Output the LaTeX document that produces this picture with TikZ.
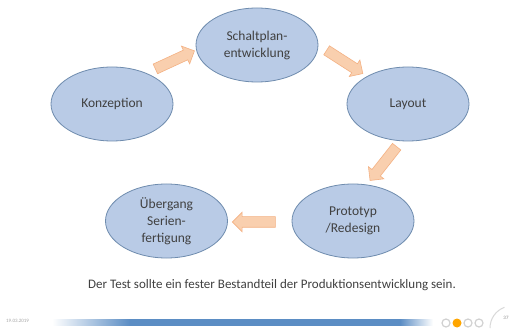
\documentclass[tikz,border=0pt]{standalone}
\usepackage{fontspec}
\setmainfont{Carlito}
\usetikzlibrary{shapes.geometric,shapes.arrows}
\definecolor{ellfill}{HTML}{B9CBE6}
\definecolor{elldraw}{HTML}{6F8CAE}
\definecolor{txt}{HTML}{404040}
\definecolor{arrfill}{HTML}{F9CFAE}
\definecolor{arrdraw}{HTML}{F4B183}
\definecolor{barblue}{HTML}{5B8DC4}
\tikzset{
  stage/.style={ellipse, draw=elldraw, line width=0.8pt, fill=ellfill,
    minimum width=122pt, minimum height=74pt, inner sep=0pt,
    text=txt, font=\fontsize{13.5}{17}\selectfont, align=center},
  blockarrow/.style={single arrow, draw=arrdraw, fill=arrfill, line width=0.6pt,
    minimum height=43pt, minimum width=19pt, inner sep=5pt,
    single arrow head extend=4.5pt, single arrow tip angle=90},
  dot/.style={circle, draw=black!18, line width=1.2pt, minimum size=8pt, inner sep=0pt}
}
\begin{document}
\begin{tikzpicture}[x=1pt,y=-1pt]
\useasboundingbox (0,0) rectangle (514,331);
\fill[white] (0,0) rectangle (514,331);
% stages
\node[stage] (sch) at (257,45) {Schaltplan-\\entwicklung};
\node[stage] (kon) at (112,104) {Konzeption};
\node[stage] (lay) at (408,104) {Layout};
\node[stage] (pro) at (353,221) {Prototyp\\/Redesign};
\node[stage] (ueb) at (166.5,221) {Übergang\\Serien-\\fertigung};
% arrows
\node[blockarrow, rotate=24.8] (a1) at (172.5,61) {};
\node[blockarrow, rotate=-32.7] (a2) at (342.5,60.5) {};
\node[blockarrow, rotate=-128.2] (a3) at (385,161.5) {};
\node[blockarrow, rotate=180] (a4) at (256.5,222) {};
% text
\node[text=txt, font=\fontsize{13}{15}\selectfont] (note) at (272,285)
  {Der Test sollte ein fester Bestandteil der Produktionsentwicklung sein.};
% footer
\node[text=black!35, font=\fontsize{5}{6}\selectfont, anchor=west, inner sep=0pt] (date) at (6,321) {19.03.2019};
\shade[left color=white, right color=barblue] (52,319) rectangle (130,325.5);
\fill[barblue] (129.5,319) rectangle (400.5,325.5);
\shade[left color=barblue, right color=white] (400,319) rectangle (433,325.5);
\node[dot] (d1) at (446,323) {};
\node[dot, draw=none, fill=orange!70!yellow, minimum size=9pt] (d2) at (457,323) {};
\node[dot] (d3) at (468,323) {};
\node[dot] (d4) at (479,323) {};
\draw[black!15, line width=1pt] (490,328) arc[start angle=180, end angle=250, radius=22];
\node[text=black!45, font=\fontsize{5}{6}\selectfont] (pg) at (506,318) {37};
\end{tikzpicture}
\end{document}
